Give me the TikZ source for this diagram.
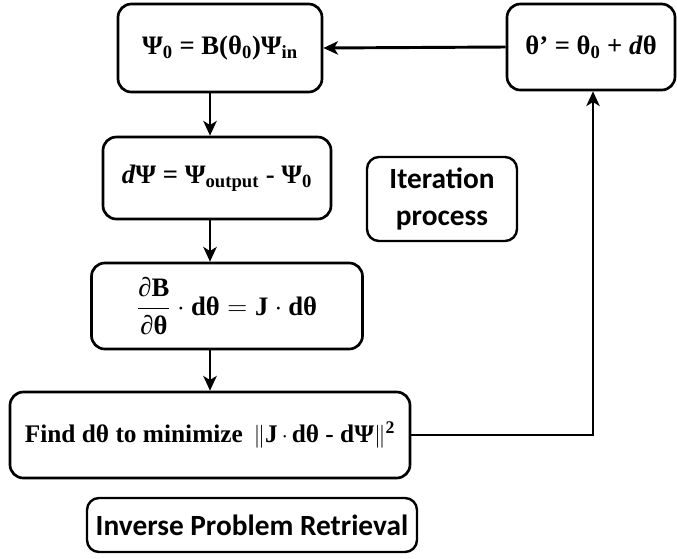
\documentclass[tikz,border=0pt]{standalone}
\usepackage{amsmath}
\usepackage{fontspec}
\setmainfont{Liberation Serif}
\newfontfamily\calibrifont{Carlito}
\usetikzlibrary{arrows.meta}

\begin{document}
\begin{tikzpicture}[x=0.75pt,y=-0.75pt,
    stepbox/.style={draw,line width=2pt,rounded corners=10pt,align=center,inner sep=0pt,
      font=\fontsize{20}{24}\selectfont\bfseries},
    tagbox/.style={draw,line width=1.8pt,rounded corners=9pt,align=center,inner sep=0pt,
      font=\fontsize{22}{28}\selectfont\calibrifont\bfseries},
    link/.style={line width=2.2pt,-{Stealth[length=11pt,width=10pt,inset=3pt]}}]

\useasboundingbox (0,0) rectangle (677,558);

  \node (psi) at (220,48) [stepbox,minimum width=204*0.75pt,minimum height=88*0.75pt]
     {Ψ\textsubscript{0} = B(θ\textsubscript{0})Ψ\textsubscript{in}};
  \node (theta) at (591,47) [stepbox,minimum width=168*0.75pt,minimum height=86*0.75pt]
     {θ' = θ\textsubscript{0} + \textit{d}θ};
  \node (dpsi) at (217,178) [stepbox,minimum width=228*0.75pt,minimum height=82*0.75pt]
     {\textit{d}Ψ = Ψ\textsubscript{output} - Ψ\textsubscript{0}};
  \node (jac) at (227,306) [stepbox,minimum width=271*0.75pt,minimum height=86*0.75pt]
     {$\dfrac{\text{∂B}}{\text{∂θ}}\cdot\text{dθ} = \text{J}\cdot\text{dθ}$};
  \node (find) at (210,435) [stepbox,minimum width=400*0.75pt,minimum height=86*0.75pt,
     font=\fontsize{19}{24}\selectfont\bfseries]
     {Find dθ to minimize\hspace{8pt}$\|\text{J}\,{\cdot}\,\text{dθ - dΨ}\|$\textsuperscript{2}};

%%% labels %%%

  \node (iter) at (442,199) [tagbox,minimum width=150*0.75pt,minimum height=84*0.75pt]
     {Iteration\\process};
  \node (retr) at (252,525) [tagbox,minimum width=330*0.75pt,minimum height=54*0.75pt]
     {Inverse Problem Retrieval};

\draw[link] (psi.south -| find.north) -- (dpsi.north -| find.north);
\draw[link] (dpsi.south -| find.north) -- (jac.north -| find.north);
\draw[link] (jac.south -| find.north) -- (find.north);
\draw[link] (find.east) -| ([xshift=2*0.75pt]theta.south);
\draw[link] (theta.west) -- (psi.east);

\end{tikzpicture}
\end{document}
